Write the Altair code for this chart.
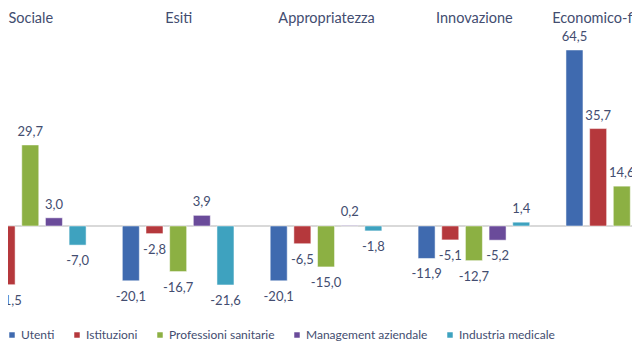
import json
import altair as alt
import pandas as pd

groups = ["Sociale", "Esiti", "Appropriatezza", "Innovazione", "Economico-finanziaria"]
series = ["Utenti", "Istituzioni", "Professioni sanitarie", "Management aziendale", "Industria medicale"]
colors = ["#3F6AAF", "#B5383C", "#8CB043", "#6A4B9A", "#3EA2BF"]

# values per series, one entry per group (None = outside the visible crop)
utenti = [None, -20.1, -20.1, -11.9, 64.5]
istituzioni = [-21.5, -2.8, -6.5, -5.1, 35.7]
professioni = [29.7, -16.7, -15.0, -12.7, 14.6]
management = [3.0, 3.9, 0.2, -5.2, None]
industria = [-7.0, -21.6, -1.8, 1.4, None]

all_series = [utenti, istituzioni, professioni, management, industria]
rows = []
for si, (name, vals) in enumerate(zip(series, all_series)):
    for gi, v in enumerate(vals):
        if v is None:
            continue
        rows.append({"gi": gi, "si": si, "serie": name, "gruppo": groups[gi], "v": v})
df = pd.DataFrame(rows)

TEXT = "#434D70"
FONT = "Lato"
GROUP_STEP = 6.25

label_expr = json.dumps(groups) + "[round(datum.value / %s)]" % GROUP_STEP

base = alt.Chart(df).transform_calculate(
    u=f"datum.gi * {GROUP_STEP} + datum.si - 2",
    lab="(datum.v < 0 ? '-' : '') + replace(format(abs(datum.v), '.1f'), '.', ',')",
    zero="0",
)

x = alt.X(
    "u:Q",
    scale=alt.Scale(domain=[-0.73, 25.22], nice=False, zero=False),
    axis=alt.Axis(
        orient="top",
        values=[i * GROUP_STEP for i in range(len(groups))],
        labelExpr=label_expr,
        domain=False,
        ticks=False,
        grid=False,
        title=None,
        labelFont=FONT,
        labelFontSize=14.5,
        labelColor=TEXT,
        labelPadding=3,
        labelOverlap=False,
        labelBound=False,
        labelFlush=False,
    ),
)
yscale = alt.Scale(domain=[-43.24, 72.55], nice=False, zero=False)
y = alt.Y("v:Q", scale=yscale, axis=None)

color = alt.Color(
    "serie:N",
    scale=alt.Scale(domain=series, range=colors),
    legend=alt.Legend(
        title=None,
        orient="none",
        direction="horizontal",
        legendX=-2,
        legendY=301,
        symbolType="square",
        symbolSize=30,
        symbolStrokeWidth=0,
        labelFont=FONT,
        labelFontSize=12,
        labelColor=TEXT,
        labelOffset=3,
        columnPadding=16,
    ),
)

zero = base.mark_rule(color="#D9D9D9", strokeWidth=1.5).encode(
    y=alt.Y("zero:Q", scale=yscale, axis=None)
)

bars = base.mark_bar(size=17, clip=True, stroke="white", strokeWidth=1, strokeOpacity=0.5).encode(
    x=x, y=y, color=color
)

pos_labels = base.transform_filter("datum.v >= 0").mark_text(
    clip=True, baseline="alphabetic", dy=-9, font=FONT, fontSize=13, color=TEXT
).encode(x=x, y=y, text="lab:N")

neg_labels = base.transform_filter("datum.v < 0").mark_text(
    clip=True, baseline="top", dy=10, font=FONT, fontSize=13, color=TEXT
).encode(x=x, y=y, text="lab:N")

chart = alt.layer(zero, bars, pos_labels, neg_labels).properties(
    width=624,
    height=316,
    autosize=alt.AutoSizeParams(type="none"),
    padding={"left": 0, "right": 0, "top": 20, "bottom": 0},
    background="white",
).configure_view(stroke=None)

chart.save("out.html", embed_options={"renderer": "svg", "actions": False})
